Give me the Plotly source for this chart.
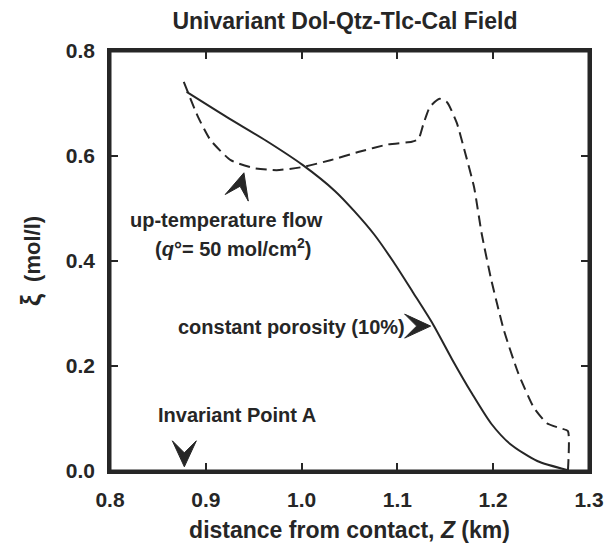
import math
import plotly.graph_objects as go

# distance from contact Z (km) and fluid flux xi (mol/l)
z_porosity = [0.880, 0.922, 0.963, 1.001, 1.035, 1.055, 1.076, 1.096, 1.116, 1.137,
              1.157, 1.178, 1.198, 1.218, 1.246, 1.277]
xi_porosity = [0.722, 0.674, 0.629, 0.583, 0.533, 0.495, 0.450, 0.398, 0.341, 0.280,
               0.213, 0.147, 0.090, 0.051, 0.019, 0.002]

z_uptemp = [0.877, 0.892, 0.905, 0.926, 0.950, 0.974, 1.001, 1.030, 1.060, 1.090,
            1.115, 1.122, 1.127, 1.134, 1.144, 1.152, 1.162, 1.170, 1.180, 1.188,
            1.198, 1.211, 1.226, 1.242, 1.256, 1.269, 1.278, 1.278]
xi_uptemp = [0.741, 0.674, 0.630, 0.592, 0.577, 0.573, 0.579, 0.592, 0.608, 0.622,
             0.627, 0.632, 0.660, 0.694, 0.709, 0.702, 0.663, 0.611, 0.541, 0.452,
             0.364, 0.269, 0.187, 0.122, 0.091, 0.082, 0.076, 0.000]

x_ticks = [0.8, 0.9, 1.0, 1.1, 1.2, 1.3]
y_ticks = [0.0, 0.2, 0.4, 0.6, 0.8]

INK = "#262626"
FONT = "Liberation Sans, Arial, Helvetica, sans-serif"

fig = go.Figure()
fig.add_trace(go.Scatter(x=z_porosity, y=xi_porosity, mode="lines",
                         line=dict(color=INK, width=2, shape="spline", smoothing=0.7),
                         name="constant porosity (10%)", showlegend=False))
fig.add_trace(go.Scatter(x=z_uptemp, y=xi_uptemp, mode="lines",
                         line=dict(color=INK, width=2, dash="11px,6px", shape="spline", smoothing=0.5),
                         name="up-temperature flow", showlegend=False))

# text labels
labels = [
    ("up-temperature flow", 0.922, 0.478),
    ("(<i>q</i>°= 50 mol/cm<sup>2</sup>)", 0.928, 0.425),
    ("constant porosity (10%)", 0.989, 0.274),
    ("Invariant Point A", 0.933, 0.107),
]
for txt, x, y in labels:
    fig.add_annotation(x=x, y=y, text=txt, showarrow=False,
                       font=dict(size=20, color=INK, family=FONT, weight="bold"),
                       xanchor="center", yanchor="middle")


def arrowhead_path(direction_deg, length=26, half_width=12, notch=14):
    """Notched arrowhead outline in pixels, tip at the anchor point."""
    a = math.radians(direction_deg)
    ux, uy = math.cos(a), math.sin(a)
    px, py = -uy, ux
    pts = [(0.0, 0.0),
           (-length * ux + half_width * px, -length * uy + half_width * py),
           (-notch * ux, -notch * uy),
           (-length * ux - half_width * px, -length * uy - half_width * py)]
    return "M" + " L".join(f"{x:.2f},{y:.2f}" for x, y in pts) + " Z"


# arrowheads: tip position (data) and pointing direction (degrees, counter-clockwise from +x)
arrow_tips = [
    (0.9398, 0.568, 74),    # up-temperature flow minimum
    (1.1347, 0.276, 0),     # constant porosity curve
    (0.8776, 0.008, -90),   # invariant point A
]
for x, y, ang in arrow_tips:
    fig.add_shape(type="path", xref="x", yref="y", xsizemode="pixel", ysizemode="pixel",
                  xanchor=x, yanchor=y, path=arrowhead_path(ang),
                  fillcolor=INK, line=dict(color=INK, width=1))

# plot frame (all four sides)
for x0, y0, x1, y1 in [(0, 0, 1, 0), (0, 1, 1, 1), (0, 0, 0, 1), (1, 0, 1, 1)]:
    fig.add_shape(type="line", xref="paper", yref="paper", x0=x0, y0=y0, x1=x1, y1=y1,
                  line=dict(color=INK, width=3), layer="above")

axis_common = dict(
    showline=True, linecolor=INK, linewidth=2.5, mirror="ticks",
    ticks="inside", ticklen=8, tickwidth=2, tickcolor=INK,
    showgrid=False, zeroline=False,
    tickfont=dict(size=21, color=INK, family=FONT, weight="bold"),
)

fig.update_layout(
    width=616, height=552,
    margin=dict(l=110, r=16, t=51, b=81),
    paper_bgcolor="white", plot_bgcolor="white",
    font=dict(family=FONT, color=INK),
    title=dict(text="Univariant Dol-Qtz-Tlc-Cal Field", x=0.56, xanchor="center",
               y=1 - 21 / 552, yanchor="middle", yref="container",
               font=dict(size=23, color=INK, family=FONT, weight="bold")),
    xaxis=dict(range=[0.8, 1.3], tickvals=x_ticks, tickformat=".1f",
               ticklabelstandoff=8,
               title=dict(text="distance from contact, <i>Z</i> (km)", standoff=12,
                          font=dict(size=23, color=INK, family=FONT, weight="bold")),
               **axis_common),
    yaxis=dict(range=[0, 0.8], tickvals=y_ticks, tickformat=".1f",
               ticklabelstandoff=8,
               title=dict(text="<span style='font-size:27px'>ξ</span>  (mol/l)", standoff=20,
                          font=dict(size=22, color=INK, family=FONT, weight="bold")),
               **axis_common),
)

fig.write_html("out.html")
